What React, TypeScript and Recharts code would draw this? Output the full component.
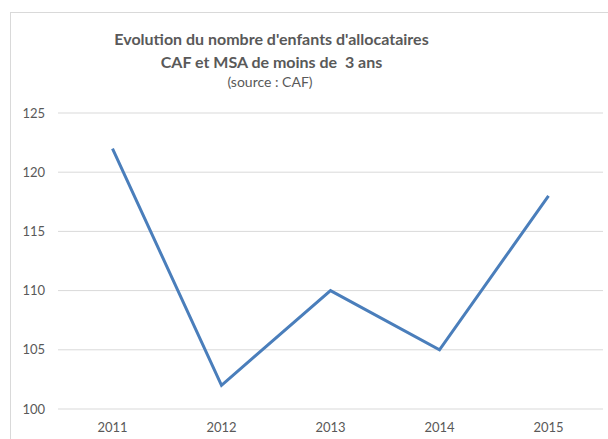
import { LineChart, Line, XAxis, YAxis, CartesianGrid } from "recharts";

const years = ["2011", "2012", "2013", "2014", "2015"];
const enfants = [122, 102, 110, 105, 118];
const yTicks = [100, 105, 110, 115, 120, 125];

const data = years.map((year, i) => ({ year, value: enfants[i] }));

const grey = "#595959";
const font = "Lato, 'Open Sans', sans-serif";

export default function App() {
  return (
    <div style={{ position: "absolute", left: 0, top: 0, width: 608, height: 439, overflow: "hidden", background: "#fff", fontFamily: font }}>
      <div
        style={{
          position: "absolute",
          left: 10,
          top: 12,
          width: 640,
          height: 480,
          border: "1px solid #d9d9d9",
          boxSizing: "border-box",
        }}
      />
      <div style={{ position: "absolute", left: 0, top: 27, width: 543, textAlign: "center", color: grey, fontWeight: 700, fontSize: 16, lineHeight: "23px" }}>
        <div>Evolution du nombre d'enfants d'allocataires</div>
        <div>CAF et MSA de moins de&nbsp; 3 ans</div>
      </div>
      <div style={{ position: "absolute", left: 0, top: 73, width: 540, textAlign: "center", color: grey, fontSize: 14, lineHeight: "18px" }}>
        (source : CAF)
      </div>
      <div style={{ position: "absolute", left: 0, top: 0 }}>
        <LineChart width={608} height={439} data={data} margin={{ top: 113, right: 5, bottom: 0, left: 0 }}>
          <CartesianGrid vertical={false} stroke="#d9d9d9" />
          <XAxis
            dataKey="year"
            height={30}
            axisLine={false}
            tickLine={false}
            tickSize={0}
            tickMargin={14}
            padding={{ left: 54.5, right: 54.5 }}
            tick={{ fill: grey, fontSize: 13, fontFamily: font }}
          />
          <YAxis
            width={58}
            domain={[100, 125]}
            ticks={yTicks}
            axisLine={false}
            tickLine={false}
            tickSize={0}
            tickMargin={13}
            tick={{ fill: grey, fontSize: 13, fontFamily: font }}
          />
          <Line
            type="linear"
            dataKey="value"
            stroke="#4a7ebb"
            strokeWidth={3}
            dot={false}
            isAnimationActive={false}
          />
        </LineChart>
      </div>
    </div>
  );
}
